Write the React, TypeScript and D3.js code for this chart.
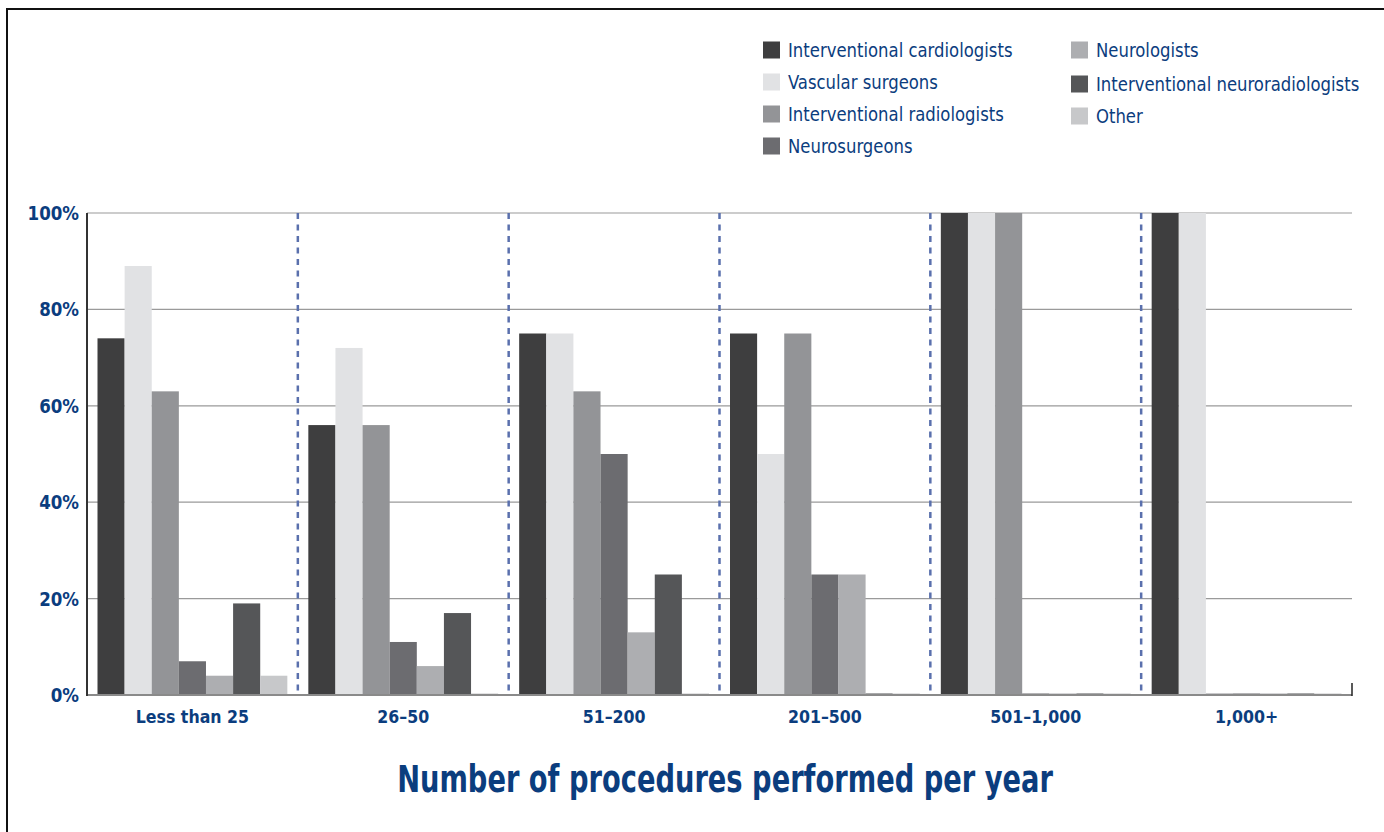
import React from "react";
import * as d3 from "d3";

const categories = ["Less than 25", "26–50", "51–200", "201–500", "501–1,000", "1,000+"];
const seriesNames = [
  "Interventional cardiologists",
  "Vascular surgeons",
  "Interventional radiologists",
  "Neurosurgeons",
  "Neurologists",
  "Interventional neuroradiologists",
  "Other",
];
const seriesColors = ["#3e3e3f", "#e1e2e4", "#939497", "#6c6c70", "#adaeb1", "#555658", "#c7c8ca"];
const interventionalCardiologists = [74, 56, 75, 75, 100, 100];
const vascularSurgeons = [89, 72, 75, 50, 100, 100];
const interventionalRadiologists = [63, 56, 63, 75, 100, 0];
const neurosurgeons = [7, 11, 50, 25, 0, 0];
const neurologists = [4, 6, 13, 25, 0, 0];
const interventionalNeuroradiologists = [19, 17, 25, 0, 0, 0];
const other = [4, 0, 0, 0, 0, 0];
const seriesValues = [
  interventionalCardiologists,
  vascularSurgeons,
  interventionalRadiologists,
  neurosurgeons,
  neurologists,
  interventionalNeuroradiologists,
  other,
];
const yTicks = [0, 20, 40, 60, 80, 100];
const title = "Number of procedures performed per year";

const W = 1384;
const H = 832;
const left = 87;
const right = 1352;
const top = 213;
const bottom = 695;
const BLUE = "#0b3d7e";
const FONT = "'DejaVu Sans Condensed', 'Liberation Sans Narrow', sans-serif";

function SText(props: {
  x: number;
  y: number;
  sx: number;
  size: number;
  anchor?: string;
  bold?: boolean;
  children: React.ReactNode;
}) {
  return (
    <text
      transform={`translate(${props.x},${props.y}) scale(${props.sx},1)`}
      textAnchor={props.anchor || "start"}
      fontSize={props.size}
      fontWeight={props.bold ? "bold" : "normal"}
      fill={BLUE}
    >
      {props.children}
    </text>
  );
}

export default function App() {
  const x0 = d3.scaleBand<string>().domain(categories).range([left, right]).padding(0);
  const bw = x0.bandwidth();
  const x1 = d3.scaleBand<string>().domain(seriesNames).range([10.5, bw - 10.5]).padding(0);
  const y = d3.scaleLinear().domain([0, 100]).range([bottom, top]);

  const legendPos = [
    { x: 763, y: 50 },
    { x: 763, y: 82 },
    { x: 763, y: 114 },
    { x: 763, y: 146 },
    { x: 1071, y: 50 },
    { x: 1071, y: 84 },
    { x: 1071, y: 116 },
  ];

  return (
    <svg
      width={W}
      height={H}
      style={{ position: "absolute", left: 0, top: 0, background: "#fff" }}
      fontFamily={FONT}
    >
      <rect x={0} y={0} width={W} height={H} fill="#fff" />
      <path d={`M7,${H} V9 H${W}`} fill="none" stroke="#111" strokeWidth={2} />

      {/* legend */}
      {seriesNames.map((s, i) => (
        <g key={s}>
          <rect
            x={legendPos[i].x}
            y={legendPos[i].y - 8.5}
            width={17}
            height={17}
            fill={seriesColors[i]}
          />
          <SText x={legendPos[i].x + 25} y={legendPos[i].y + 6.5} sx={0.94} size={19.5}>
            {s}
          </SText>
        </g>
      ))}

      {/* gridlines */}
      {yTicks.map((t) =>
        t > 0 ? (
          <line key={t} x1={left} x2={right} y1={y(t)} y2={y(t)} stroke="#9a9a9a" strokeWidth={1.2} />
        ) : null
      )}

      {/* y tick labels */}
      {yTicks.map((t) => (
        <SText key={"l" + t} x={79} y={y(t) + 7} sx={0.95} size={19.5} anchor="end" bold>
          {t}%
        </SText>
      ))}

      {/* bars */}
      {categories.map((c, ci) => (
        <g key={c} transform={`translate(${x0(c)},0)`}>
          {seriesNames.map((s, si) => {
            const v = seriesValues[si][ci];
            const h = Math.max(y(0) - y(v), 1.5);
            return (
              <rect
                key={s}
                x={x1(s)}
                y={y(0) - h}
                width={x1.bandwidth()}
                height={h}
                fill={seriesColors[si]}
              />
            );
          })}
        </g>
      ))}

      {/* dashed dividers */}
      {categories.slice(1).map((c) => (
        <line
          key={"d" + c}
          x1={x0(c)}
          x2={x0(c)}
          y1={top}
          y2={bottom}
          stroke="#5a70ad"
          strokeWidth={2.5}
          strokeDasharray="6,5.5"
        />
      ))}

      {/* axes */}
      <line x1={left} x2={right} y1={bottom} y2={bottom} stroke="#8a8a8a" strokeWidth={2} />
      <line x1={left} x2={left} y1={top} y2={bottom + 1} stroke="#333" strokeWidth={2} />
      <line x1={right} x2={right} y1={bottom - 12} y2={bottom + 1} stroke="#222" strokeWidth={1.5} />

      {/* category labels */}
      {categories.map((c) => (
        <SText
          key={"c" + c}
          x={(x0(c) as number) + bw / 2}
          y={723}
          sx={0.95}
          size={18.5}
          anchor="middle"
          bold
        >
          {c}
        </SText>
      ))}

      <SText x={725} y={792} sx={0.82} size={37} anchor="middle" bold>
        {title}
      </SText>
    </svg>
  );
}
